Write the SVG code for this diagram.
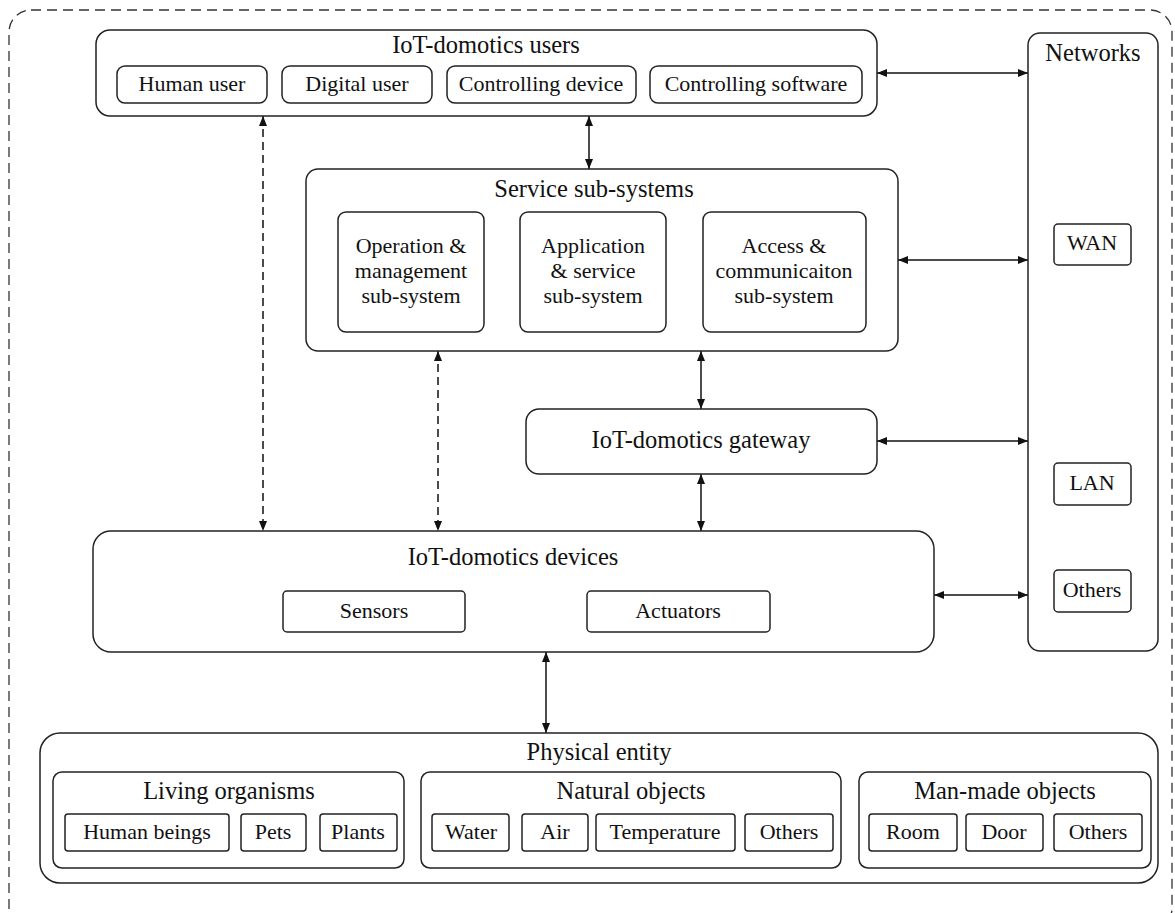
<svg xmlns="http://www.w3.org/2000/svg" width="1175" height="913" viewBox="0 0 1175 913">
<style>
text{font-family:"Liberation Serif","Times New Roman",serif;fill:#111;text-anchor:middle}
.t{font-size:24.5px}
.s{font-size:22px}
.box{fill:#fff;stroke:#222;stroke-width:1.5}
.ln{stroke:#111;stroke-width:1.5;fill:none}
.dash{stroke-dasharray:8 5}
</style>
<defs>
<marker id="ah" viewBox="0 0 10 8" refX="10" refY="4" markerWidth="10" markerHeight="8" markerUnits="userSpaceOnUse" orient="auto-start-reverse">
<path d="M0,0 L10,4 L0,8 z" fill="#111"/>
</marker>
</defs>
<rect x="9" y="10" width="1163" height="920" rx="22" fill="none" stroke="#333" stroke-width="1.3" stroke-dasharray="10 6"/>

<g id="connectors">
<line class="ln" x1="877" y1="73" x2="1028" y2="73" marker-start="url(#ah)" marker-end="url(#ah)"/>
<line class="ln" x1="898" y1="260" x2="1028" y2="260" marker-start="url(#ah)" marker-end="url(#ah)"/>
<line class="ln" x1="877" y1="441" x2="1028" y2="441" marker-start="url(#ah)" marker-end="url(#ah)"/>
<line class="ln" x1="934" y1="595" x2="1028" y2="595" marker-start="url(#ah)" marker-end="url(#ah)"/>
<line class="ln" x1="589" y1="116" x2="589" y2="169" marker-start="url(#ah)" marker-end="url(#ah)"/>
<line class="ln dash" x1="263" y1="116" x2="263" y2="531" marker-start="url(#ah)" marker-end="url(#ah)"/>
<line class="ln dash" x1="438" y1="351" x2="438" y2="531" marker-start="url(#ah)" marker-end="url(#ah)"/>
<line class="ln" x1="701" y1="351" x2="701" y2="409" marker-start="url(#ah)" marker-end="url(#ah)"/>
<line class="ln" x1="701" y1="474" x2="701" y2="531" marker-start="url(#ah)" marker-end="url(#ah)"/>
<line class="ln" x1="546" y1="652" x2="546" y2="733" marker-start="url(#ah)" marker-end="url(#ah)"/>
</g>

<g id="users">
<rect class="box" x="96" y="30" width="781" height="86" rx="14"/>
<text class="t" x="486" y="53">IoT-domotics users</text>
<rect class="box" x="117" y="66" width="150" height="37" rx="8"/>
<text class="s" x="192" y="91">Human user</text>
<rect class="box" x="282" y="66" width="150" height="37" rx="8"/>
<text class="s" x="357" y="91">Digital user</text>
<rect class="box" x="447" y="66" width="189" height="37" rx="8"/>
<text class="s" x="541" y="91">Controlling device</text>
<rect class="box" x="650" y="66" width="212" height="37" rx="8"/>
<text class="s" x="756" y="91">Controlling software</text>
</g>

<g id="networks">
<rect class="box" x="1028" y="33" width="130" height="618" rx="12"/>
<text class="t" x="1093" y="61">Networks</text>
<rect class="box" x="1054" y="224" width="77" height="41" rx="4"/>
<text class="s" x="1092" y="250">WAN</text>
<rect class="box" x="1054" y="463" width="77" height="42" rx="4"/>
<text class="s" x="1092" y="490">LAN</text>
<rect class="box" x="1054" y="570" width="77" height="42" rx="4"/>
<text class="s" x="1092" y="597">Others</text>
</g>

<g id="service">
<rect class="box" x="306" y="169" width="592" height="182" rx="12"/>
<text class="t" x="594" y="197">Service sub-systems</text>
<rect class="box" x="338" y="212" width="146" height="120" rx="8"/>
<text class="s" x="411" y="253">Operation &amp;</text>
<text class="s" x="411" y="278">management</text>
<text class="s" x="411" y="303">sub-system</text>
<rect class="box" x="520" y="212" width="146" height="120" rx="8"/>
<text class="s" x="593" y="253">Application</text>
<text class="s" x="593" y="278">&amp; service</text>
<text class="s" x="593" y="303">sub-system</text>
<rect class="box" x="703" y="212" width="163" height="120" rx="8"/>
<text class="s" x="784" y="253">Access &amp;</text>
<text class="s" x="784" y="278">communicaiton</text>
<text class="s" x="784" y="303">sub-system</text>
</g>

<g id="gateway">
<rect class="box" x="526" y="409" width="351" height="65" rx="13"/>
<text class="t" x="701" y="448">IoT-domotics gateway</text>
</g>

<g id="devices">
<rect class="box" x="93" y="531" width="841" height="121" rx="18"/>
<text class="t" x="513" y="565">IoT-domotics devices</text>
<rect class="box" x="283" y="591" width="182" height="41" rx="4"/>
<text class="s" x="374" y="618">Sensors</text>
<rect class="box" x="587" y="591" width="183" height="41" rx="4"/>
<text class="s" x="678" y="618">Actuators</text>
</g>

<g id="physical">
<rect class="box" x="40" y="733" width="1118" height="150" rx="20"/>
<text class="t" x="599" y="760">Physical entity</text>
</g>
<g id="living">
<rect class="box" x="53" y="772" width="351" height="96" rx="9"/>
<text class="t" x="229" y="799">Living organisms</text>
<rect class="box" x="65" y="814" width="164" height="37" rx="3"/>
<text class="s" x="147" y="839">Human beings</text>
<rect class="box" x="241" y="814" width="65" height="37" rx="3"/>
<text class="s" x="273" y="839">Pets</text>
<rect class="box" x="320" y="814" width="77" height="37" rx="3"/>
<text class="s" x="358" y="839">Plants</text>
</g>
<g id="natural">
<rect class="box" x="421" y="772" width="420" height="96" rx="9"/>
<text class="t" x="631" y="799">Natural objects</text>
<rect class="box" x="432" y="814" width="77" height="37" rx="3"/>
<text class="s" x="471" y="839">Water</text>
<rect class="box" x="522" y="814" width="66" height="37" rx="3"/>
<text class="s" x="555" y="839">Air</text>
<rect class="box" x="596" y="814" width="139" height="37" rx="3"/>
<text class="s" x="665" y="839">Temperature</text>
<rect class="box" x="745" y="814" width="88" height="37" rx="3"/>
<text class="s" x="789" y="839">Others</text>
</g>
<g id="manmade">
<rect class="box" x="859" y="772" width="292" height="96" rx="9"/>
<text class="t" x="1005" y="799">Man-made objects</text>
<rect class="box" x="869" y="814" width="88" height="37" rx="3"/>
<text class="s" x="913" y="839">Room</text>
<rect class="box" x="966" y="814" width="77" height="37" rx="3"/>
<text class="s" x="1004" y="839">Door</text>
<rect class="box" x="1054" y="814" width="88" height="37" rx="3"/>
<text class="s" x="1098" y="839">Others</text>
</g>
</svg>
